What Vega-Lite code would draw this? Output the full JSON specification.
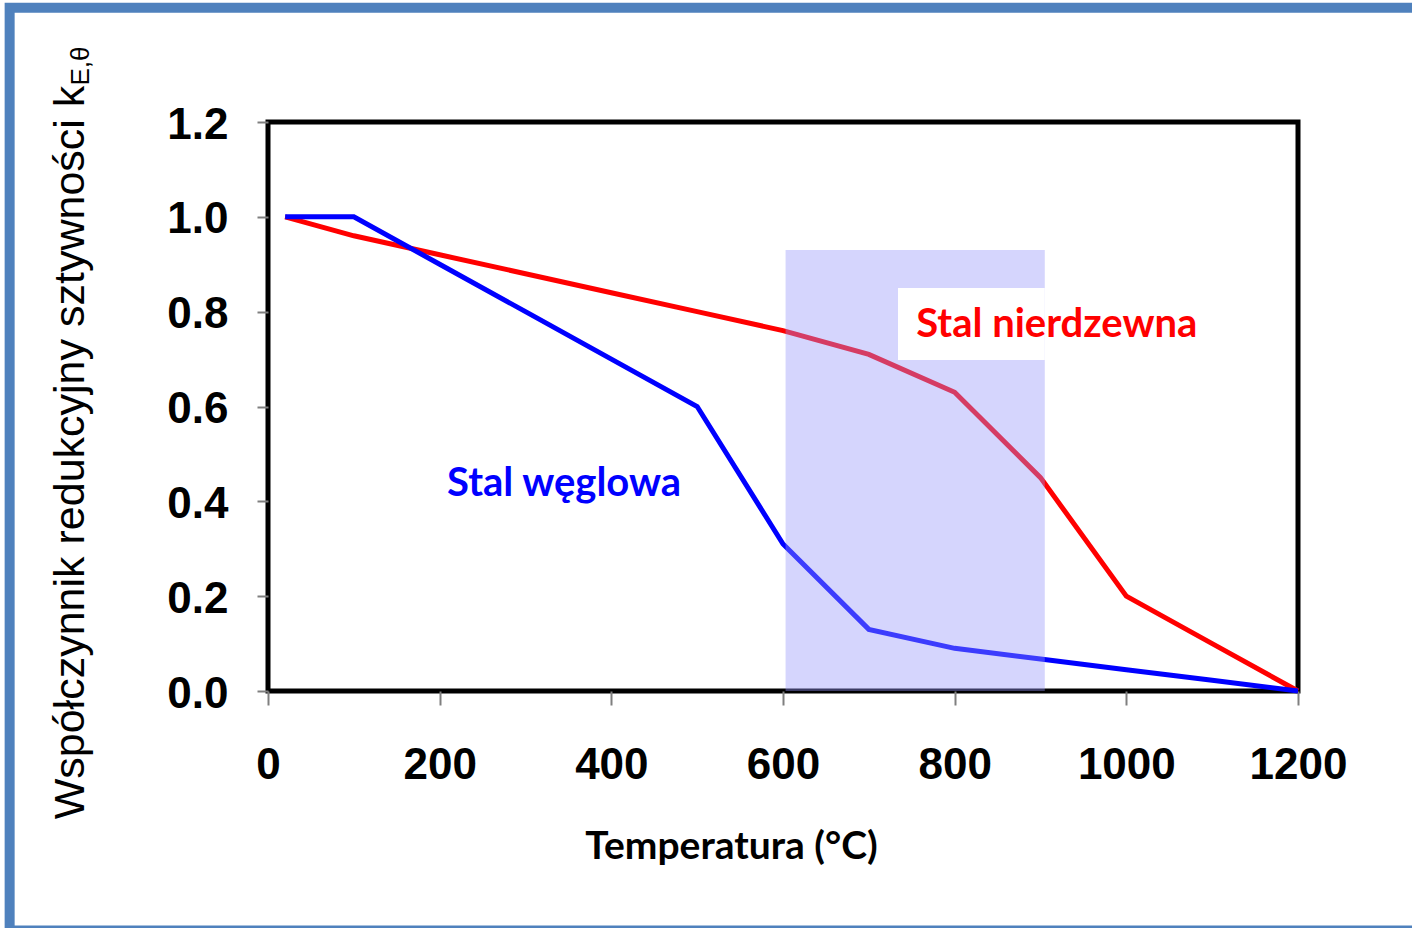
{
  "$schema": "https://vega.github.io/schema/vega-lite/v6.json",
  "width": 1030,
  "height": 569,
  "autosize": {"type": "none"},
  "padding": {"left": 268, "top": 122, "right": 114, "bottom": 237},
  "background": "white",
  "config": {
    "view": {"stroke": "black", "strokeWidth": 5},
    "axis": {"grid": false, "domain": false, "tickColor": "#7f7f7f", "tickWidth": 2,
      "labelFont": "Liberation Sans", "labelFontWeight": "bold", "labelFontSize": 44, "labelColor": "black",
      "labelFlush": false, "labelOverlap": false}
  },
  "datasets": {
    "curves": [
      {"T": 20, "k": 1.0, "steel": "Stal węglowa"},
      {"T": 100, "k": 1.0, "steel": "Stal węglowa"},
      {"T": 200, "k": 0.9, "steel": "Stal węglowa"},
      {"T": 300, "k": 0.8, "steel": "Stal węglowa"},
      {"T": 400, "k": 0.7, "steel": "Stal węglowa"},
      {"T": 500, "k": 0.6, "steel": "Stal węglowa"},
      {"T": 600, "k": 0.31, "steel": "Stal węglowa"},
      {"T": 700, "k": 0.13, "steel": "Stal węglowa"},
      {"T": 800, "k": 0.09, "steel": "Stal węglowa"},
      {"T": 900, "k": 0.0675, "steel": "Stal węglowa"},
      {"T": 1000, "k": 0.045, "steel": "Stal węglowa"},
      {"T": 1100, "k": 0.0225, "steel": "Stal węglowa"},
      {"T": 1200, "k": 0.0, "steel": "Stal węglowa"},
      {"T": 20, "k": 1.0, "steel": "Stal nierdzewna"},
      {"T": 100, "k": 0.96, "steel": "Stal nierdzewna"},
      {"T": 200, "k": 0.92, "steel": "Stal nierdzewna"},
      {"T": 300, "k": 0.88, "steel": "Stal nierdzewna"},
      {"T": 400, "k": 0.84, "steel": "Stal nierdzewna"},
      {"T": 500, "k": 0.8, "steel": "Stal nierdzewna"},
      {"T": 600, "k": 0.76, "steel": "Stal nierdzewna"},
      {"T": 700, "k": 0.71, "steel": "Stal nierdzewna"},
      {"T": 800, "k": 0.63, "steel": "Stal nierdzewna"},
      {"T": 900, "k": 0.45, "steel": "Stal nierdzewna"},
      {"T": 1000, "k": 0.2, "steel": "Stal nierdzewna"},
      {"T": 1100, "k": 0.1, "steel": "Stal nierdzewna"},
      {"T": 1200, "k": 0.0, "steel": "Stal nierdzewna"}
    ],
    "page": [{"T": -301, "T2": 1345, "k": -0.505, "k2": 1.441}],
    "shade": [{"T": 603, "T2": 905, "k": 0, "k2": 0.93}],
    "whitebox": [{"T": 734, "T2": 905, "k": 0.698, "k2": 0.85}],
    "labels": [
      {"T": 345, "k": 0.437, "steel": "Stal węglowa"},
      {"T": 919, "k": 0.772, "steel": "Stal nierdzewna"}
    ],
    "sub": [{"T": -208, "k": 1.318, "lab": "E,θ"}]
  },
  "encoding": {
    "x": {"field": "T", "type": "quantitative",
      "scale": {"domain": [0, 1200], "nice": false, "zero": false},
      "axis": {"title": "Temperatura (°C)", "values": [0, 200, 400, 600, 800, 1000, 1200], "format": "d",
        "tickSize": 14, "labelPadding": 38,
        "titleFont": "Lato", "titleFontWeight": "bold", "titleFontSize": 39, "titleColor": "black",
        "titleX": 463, "titleY": 167, "titleBaseline": "alphabetic", "titleAlign": "center"}},
    "y": {"field": "k", "type": "quantitative",
      "scale": {"domain": [0, 1.2], "nice": false, "zero": false},
      "axis": {"title": "Współczynnik redukcyjny sztywności k", "values": [0, 0.2, 0.4, 0.6, 0.8, 1.0, 1.2],
        "format": ".1f", "tickSize": 11, "labelPadding": 29, "labelOffset": 3,
        "titleFont": "Liberation Sans", "titleFontWeight": "normal", "titleFontSize": 43, "titleColor": "black",
        "titleAngle": 270, "titleX": -185, "titleY": 330, "titleBaseline": "alphabetic", "titleAlign": "center"}}
  },
  "layer": [
    {"data": {"name": "page"},
     "mark": {"type": "rect", "fill": null, "filled": false, "stroke": "#4f81bd", "strokeWidth": 10, "clip": false},
     "encoding": {"x2": {"field": "T2"}, "y2": {"field": "k2"}}},
    {"data": {"name": "curves"}, "transform": [{"filter": "datum.steel == 'Stal nierdzewna'"}],
     "mark": {"type": "line", "strokeWidth": 5},
     "encoding": {"color": {"field": "steel", "type": "nominal",
       "scale": {"domain": ["Stal nierdzewna", "Stal węglowa"], "range": ["#ff0000", "#0000ff"]}, "legend": null}}},
    {"data": {"name": "curves"}, "transform": [{"filter": "datum.steel == 'Stal węglowa'"}],
     "mark": {"type": "line", "strokeWidth": 5},
     "encoding": {"color": {"field": "steel", "type": "nominal", "legend": null}}},
    {"data": {"name": "shade"},
     "mark": {"type": "rect", "fill": "#9696fa", "opacity": 0.4},
     "encoding": {"x2": {"field": "T2"}, "y2": {"field": "k2"}}},
    {"data": {"name": "whitebox"},
     "mark": {"type": "rect", "fill": "white"},
     "encoding": {"x2": {"field": "T2"}, "y2": {"field": "k2"}}},
    {"data": {"name": "labels"},
     "mark": {"type": "text", "font": "Lato", "fontWeight": "bold", "fontSize": 40, "align": "center", "baseline": "middle"},
     "encoding": {"text": {"field": "steel"}, "color": {"field": "steel", "type": "nominal", "legend": null}}},
    {"data": {"name": "sub"},
     "mark": {"type": "text", "font": "Liberation Sans", "fontSize": 26, "angle": 270, "align": "center", "baseline": "alphabetic", "color": "black", "clip": false},
     "encoding": {"text": {"field": "lab"}}}
  ]
}
